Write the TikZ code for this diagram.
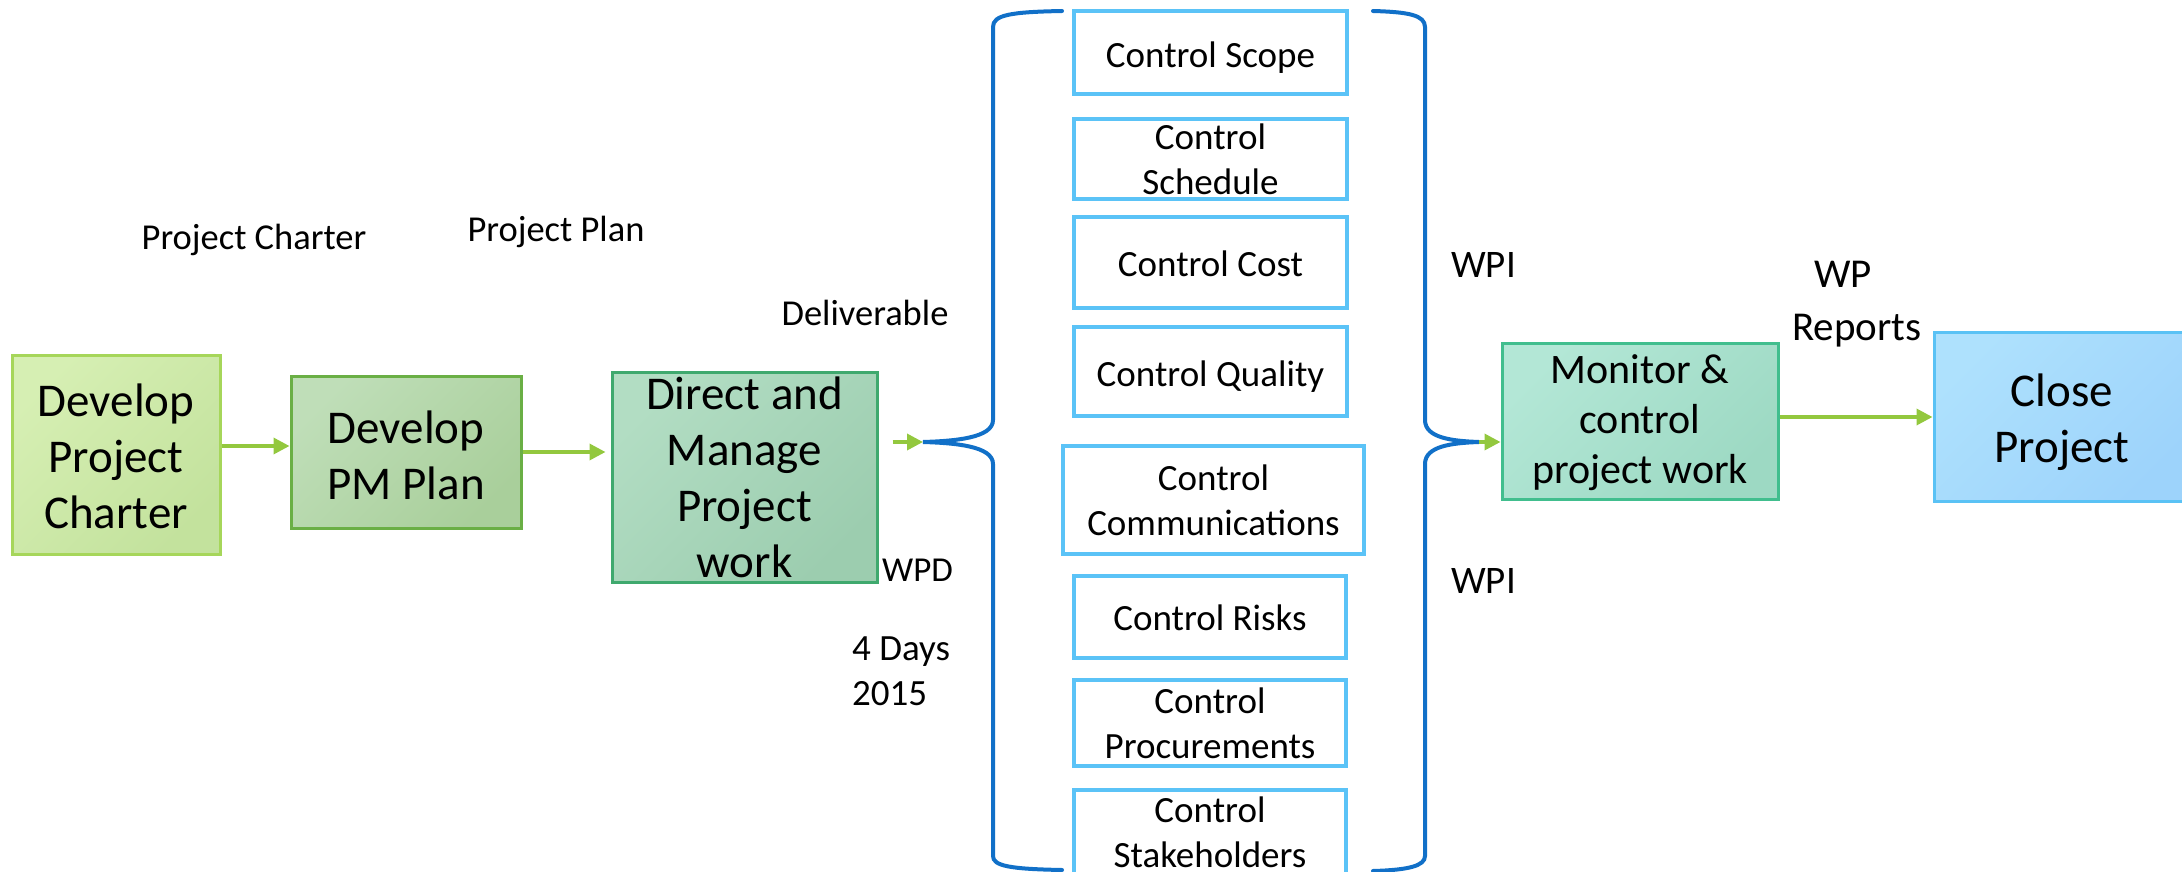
\documentclass[tikz,border=0pt]{standalone}
\usepackage{fontspec}
\setmainfont{Carlito}
\usetikzlibrary{arrows.meta,calc}
\definecolor{arrg}{HTML}{93C83E}
\definecolor{bracec}{HTML}{1170C8}
\definecolor{ctrlb}{HTML}{5BC3F7}
\definecolor{aL}{HTML}{D6EFB3}\definecolor{aD}{HTML}{C3E29D}\definecolor{aB}{HTML}{A6D65A}
\definecolor{bL}{HTML}{BFDEB8}\definecolor{bD}{HTML}{A9CF9B}\definecolor{bB}{HTML}{6AAF45}
\definecolor{cL}{HTML}{B2DDC3}\definecolor{cD}{HTML}{9CCDAF}\definecolor{cB}{HTML}{3FA96E}
\definecolor{mL}{HTML}{B3E7D6}\definecolor{mD}{HTML}{9DD9C3}\definecolor{mB}{HTML}{41BE8E}
\definecolor{kL}{HTML}{AEE1FD}\definecolor{kD}{HTML}{9DD3FB}\definecolor{kB}{HTML}{5AC2F5}
\newcommand\fsz[2]{\fontsize{#1}{#2}\selectfont}
\begin{document}
\begin{tikzpicture}[x=1pt,y=-1pt,
  proc/.style={draw, line width=3pt, inner sep=0pt},
  ctrl/.style={draw=ctrlb, line width=3.5pt, fill=white, inner sep=0pt, minimum width=273pt},
  ctext/.style={font=\fsz{37}{45}, align=center, inner sep=0pt},
  btext/.style={font=\fsz{47}{56}, align=center, inner sep=0pt},
  mtext/.style={font=\fsz{42}{50}, align=center, inner sep=0pt},
  lbl/.style={font=\fsz{36.5}{45}, inner sep=0pt, align=left},
  arr/.style={draw=arrg, line width=3.5pt, -{Triangle[length=16pt,width=16pt]}},
  brace/.style={draw=bracec, line width=4pt, line cap=round},
]
\useasboundingbox (0,0) rectangle (2182,872);

% process boxes
\node[proc, top color=aL, bottom color=aD, shading angle=45, draw=aB,
  minimum width=208pt, minimum height=199pt,
  label={[btext,name=t1,yshift=-2pt]center:Develop\\Project\\Charter}] (dpc) at (116,454.5) {};
\node[proc, top color=bL, bottom color=bD, shading angle=45, draw=bB,
  minimum width=230pt, minimum height=152pt,
  label={[btext,name=t2,yshift=-3pt]center:Develop\\PM Plan}] (dpm) at (406,452) {};
\node[proc, top color=cL, bottom color=cD, shading angle=45, draw=cB,
  minimum width=265pt, minimum height=210pt,
  label={[btext,name=t3]center:Direct and\\Manage\\Project\\work}] (dmp) at (744.5,477) {};
\node[proc, top color=mL, bottom color=mD, shading angle=45, draw=mB,
  minimum width=276pt, minimum height=156pt,
  label={[mtext,name=t4,yshift=-2pt]center:Monitor \&\\control\\project work}] (mon) at (1640,421) {};
\node[proc, top color=kL, bottom color=kD, shading angle=45, draw=kB,
  minimum width=256pt, minimum height=169pt,
  label={[btext,name=t5,yshift=-6pt]center:Close\\Project}] (close) at (2062,416.5) {};

% control boxes
\node[ctrl, minimum height=83pt, label={[ctext,name=c1t,yshift=-5pt]center:Control Scope}] (cscope) at (1210.5,52.5) {};
\node[ctrl, minimum height=80pt, label={[ctext,name=c2t]center:Control\\Schedule}] (csched) at (1210.5,159) {};
\node[ctrl, minimum height=91pt, label={[ctext,name=c3t,yshift=-1pt]center:Control Cost}] (ccost) at (1210.5,262.5) {};
\node[ctrl, minimum height=89pt, label={[ctext,name=c4t,yshift=-5pt]center:Control Quality}] (cqual) at (1210.5,371.5) {};
\node[ctrl, minimum width=301pt, minimum height=108pt, label={[ctext,name=c5t]center:Control\\Communications}] (ccomm) at (1213.5,500) {};
\node[ctrl, minimum width=272pt, minimum height=82pt, label={[ctext,name=c6t,yshift=-1pt]center:Control Risks}] (crisk) at (1210,617) {};
\node[ctrl, minimum width=272pt, minimum height=86pt, label={[ctext,name=c7t]center:Control\\Procurements}] (cproc) at (1210,723) {};
\node[ctrl, minimum width=272pt, minimum height=95pt, label={[ctext,name=c8t,yshift=5pt]center:Control\\Stakeholders}] (cstake) at (1210,837.5) {};

% labels
\node[lbl] (lpc) at (254,240) {Project Charter};
\node[lbl] (lpp) at (556,232) {Project Plan};
\node[lbl] (ldel) at (865,313) {Deliverable};
\node[lbl, font=\fsz{35}{45}, anchor=west] (lwpd) at (882,570) {WPD};
\node[lbl, font=\fsz{37}{45}, anchor=west] (ldays) at (852,671) {4 Days\\2015};
\node[lbl, font=\fsz{39}{45}, anchor=west] (lwpi1) at (1451,265) {WPI};
\node[lbl, font=\fsz{39}{45}, anchor=west] (lwpi2) at (1451,581) {WPI};
\node[lbl, font=\fsz{41}{53}, anchor=west] (lwpr) at (1792,304) {\hphantom{R}WP\\Reports};

% brace tips
\coordinate (lb) at (923,442);
\coordinate (rb) at (1479,442);

% braces
\draw[brace] (1062,11) .. controls (1010,12) and (993,15) .. (993,27)
  -- (993,420) .. controls (993,438) and (955,441) .. (lb)
  .. controls (955,443) and (993,446) .. (993,464)
  -- (993,856) .. controls (993,866) and (1010,869) .. (1062,870);
\draw[brace] (1373,11) .. controls (1408,12) and (1425,15) .. (1425,27)
  -- (1425,420) .. controls (1425,438) and (1452,441) .. (rb)
  .. controls (1452,443) and (1425,446) .. (1425,464)
  -- (1425,856) .. controls (1425,866) and (1408,870) .. (1373,871);

% arrows
\draw[arr] ([yshift=8.5pt]dpc.east) -- ([yshift=6pt]dpm.west);
\draw[arr] (dpm.east) -- ([xshift=-5pt]dpm.east -| dmp.west);
\draw[arr] ([xshift=14pt]dmp.east |- lb) -- (lb);
\draw[arr] (rb) -- (rb -| mon.west);
\draw[arr] ([yshift=4pt]mon.east) -- ([yshift=4pt]mon.east -| close.west);
\end{tikzpicture}
\end{document}
